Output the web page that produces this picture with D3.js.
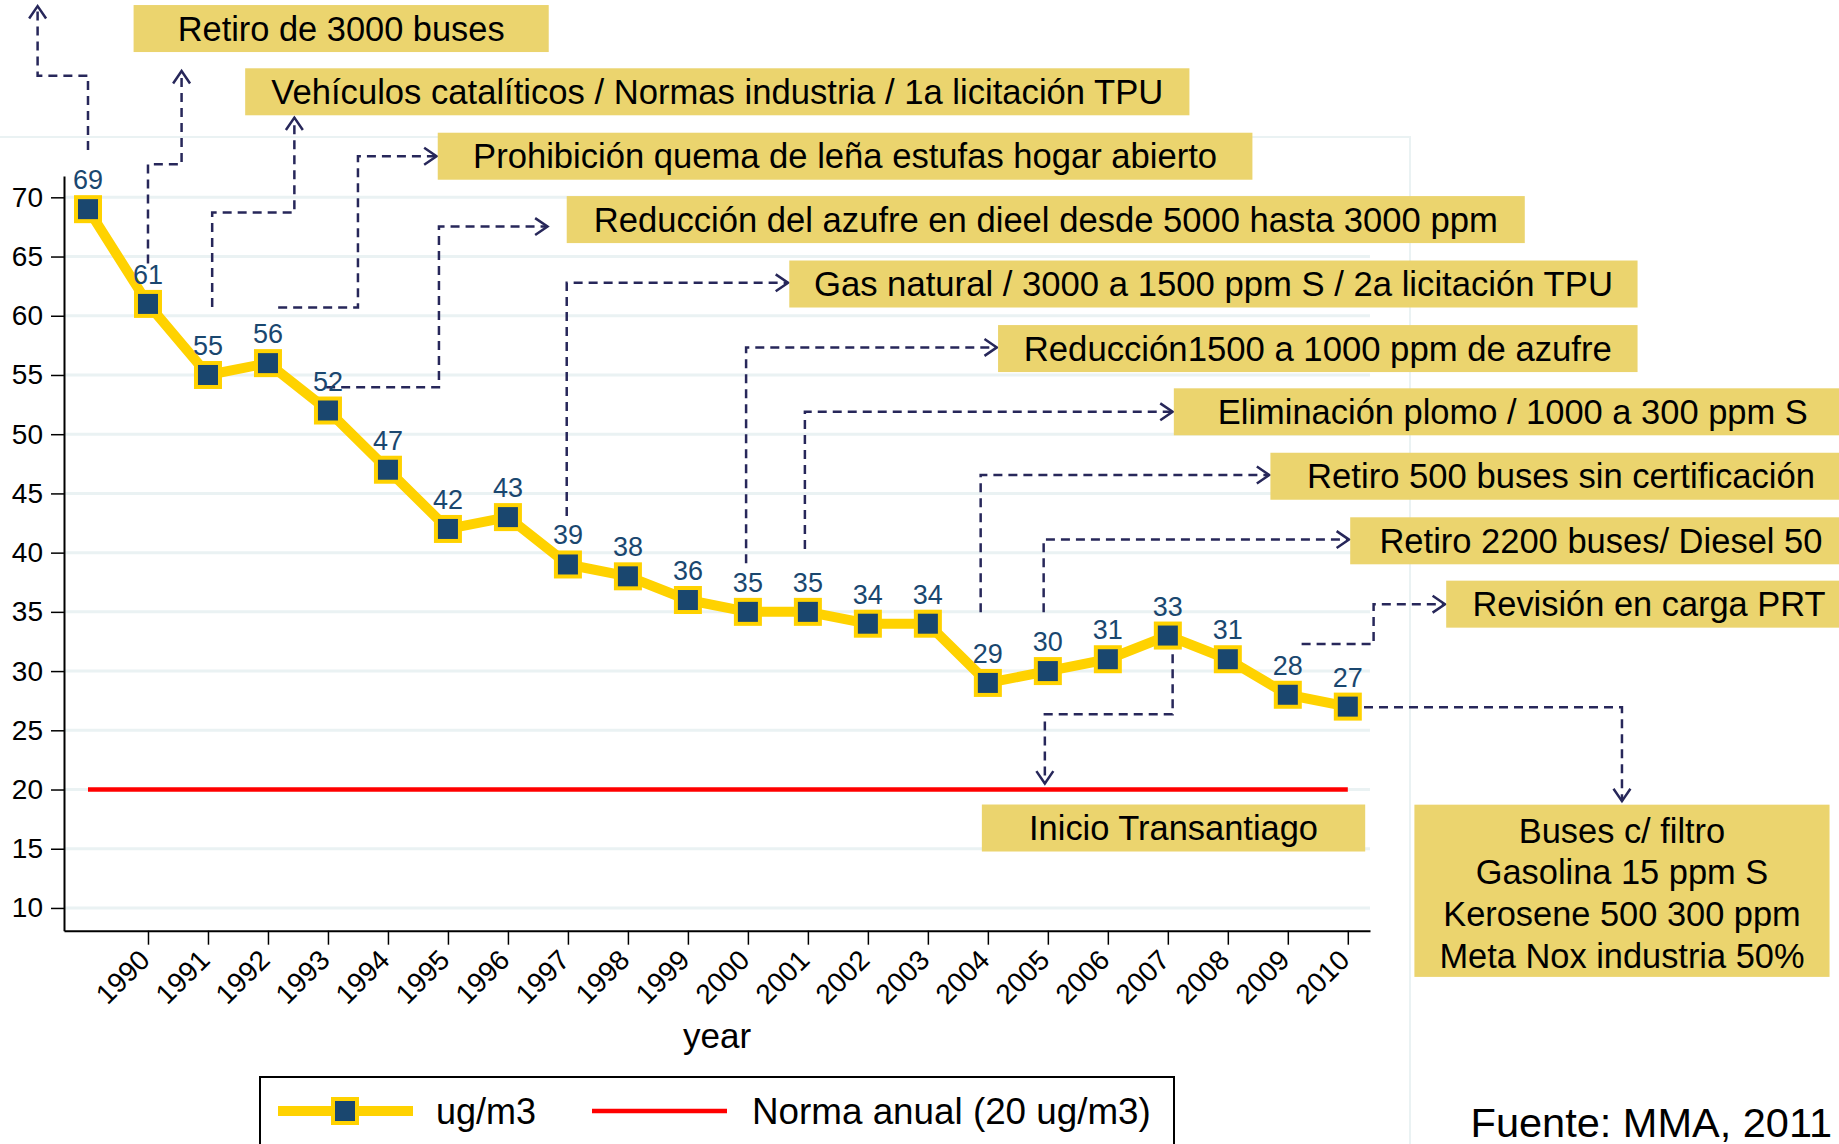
<!DOCTYPE html>
<html>
<head>
<meta charset="utf-8">
<script src="https://cdn.jsdelivr.net/npm/d3@7"></script>
<style>
    body { margin: 0; background: #fff; }
    svg { display: block; font-family: "Liberation Sans", Arial, sans-serif; }
</style>
</head>
<body>
<script>

// annual concentration (ug/m3), one value per year
let years = [1989, 1990, 1991, 1992, 1993, 1994, 1995, 1996, 1997, 1998, 1999,
    2000, 2001, 2002, 2003, 2004, 2005, 2006, 2007, 2008, 2009, 2010]
let values = [69, 61, 55, 56, 52, 47, 42, 43, 39, 38, 36,
    35, 35, 34, 34, 29, 30, 31, 33, 31, 28, 27]
let yearTicks = [1990, 1991, 1992, 1993, 1994, 1995, 1996, 1997, 1998, 1999, 2000,
    2001, 2002, 2003, 2004, 2005, 2006, 2007, 2008, 2009, 2010]
let valueTicks = [10, 15, 20, 25, 30, 35, 40, 45, 50, 55, 60, 65, 70]
let norma = 20
let seriesNames = ["ug/m3", "Norma anual (20 ug/m3)"]
let xTitle = "year"
let source = "Fuente: MMA, 2011"

let noteTexts = [
    "Retiro de 3000 buses",
    "Vehículos catalíticos / Normas industria / 1a licitación TPU",
    "Prohibición quema de leña estufas hogar abierto",
    "Reducción del azufre en dieel desde 5000 hasta 3000 ppm",
    "Gas natural / 3000 a 1500 ppm S / 2a licitación TPU",
    "Reducción1500 a 1000 ppm de azufre",
    "Eliminación plomo / 1000 a 300 ppm S",
    "Retiro 500 buses sin certificación",
    "Retiro 2200 buses/ Diesel 50",
    "Revisión en carga PRT",
    "Inicio Transantiago"
]
let noteBlock = ["Buses c/ filtro", "Gasolina 15 ppm S", "Kerosene 500 300 ppm", "Meta Nox industria 50%"]

// annotation layout, in data units (year, value): [x0, x1, y centre]
let noteBoxes = [
    [1989.76, 1996.68, 84.25],
    [1991.62, 2007.36, 78.91],
    [1994.83, 2008.41, 73.47],
    [1996.98, 2012.95, 68.12],
    [2000.69, 2014.83, 62.68],
    [2004.17, 2014.83, 57.23],
    [2007.1, 2018.4, 51.89],
    [2008.71, 2018.4, 46.45],
    [2010.04, 2018.4, 41.0],
    [2011.64, 2018.4, 35.65],
    [2003.9, 2010.29, 16.75]
]
let noteTextWidths = [327, 892, 744, 904, 799, 588, 590, 508, 443, 353, 289]
let blockBox = [2011.11, 2018.03, 18.72, 4.18]

let noteArrows = [
    [[1989, 73.99], [1989, 80.27], [1988.16, 80.27], [1988.16, 86.14]],
    [[1990, 64.42], [1990, 72.79], [1990.56, 72.79], [1990.56, 80.66]],
    [[1991.07, 60.73], [1991.07, 68.71], [1992.44, 68.71], [1992.44, 76.73]],
    [[1992.17, 60.7], [1993.5, 60.7], [1993.5, 73.47], [1994.81, 73.47]],
    [[1992.97, 53.97], [1994.85, 53.97], [1994.85, 67.53], [1996.66, 67.53]],
    [[1996.98, 43.1], [1996.98, 62.78], [2000.67, 62.78]],
    [[1999.97, 39.11], [1999.97, 57.33], [2004.15, 57.33]],
    [[2000.95, 40.31], [2000.95, 51.89], [2007.08, 51.89]],
    [[2003.88, 34.96], [2003.88, 46.55], [2008.69, 46.55]],
    [[2004.93, 34.96], [2004.93, 41.1], [2010.02, 41.1]],
    [[2009.23, 32.29], [2010.43, 32.29], [2010.43, 35.65], [2011.62, 35.65]],
    [[2007.08, 32.69], [2007.08, 26.35], [2004.95, 26.35], [2004.95, 20.51]],
    [[2010.02, 26.94], [2014.57, 26.94], [2014.57, 19.02]]
]

let width = 1839
let height = 1144
let gold = "#ffd200"
let navy = "#1a476f"
let boxFill = "#ebd46e"
let dashColor = "#27275a"

let svg = d3.select("body")
    .append("svg")
    .attr("width", width)
    .attr("height", height)

let xScale = d3.scaleLinear()
    .domain([1988.6, 2010.37])
    .range([64, 1370])

let yScale = d3.scaleLinear()
    .domain([8.08, 71.8])
    .range([930.7, 176])

// faint plot region frame
svg.append("path")
    .attr("d", "M0,137H1410V" + height)
    .attr("fill", "none")
    .attr("stroke", "#eaf2f3")
    .attr("stroke-width", 2)

// grid lines
svg.append("g")
    .selectAll("line")
    .data(valueTicks)
    .join("line")
    .attr("x1", xScale.range()[0])
    .attr("x2", xScale.range()[1])
    .attr("y1", d => yScale(d))
    .attr("y2", d => yScale(d))
    .attr("stroke", "#eaf2f3")
    .attr("stroke-width", 3)

// axes
let yAxis = d3.axisLeft(yScale).tickValues(valueTicks).tickSize(13).tickSizeOuter(0).tickPadding(8)
let gy = svg.append("g")
    .attr("transform", "translate(" + xScale.range()[0] + ",0)")
    .call(yAxis)
    .attr("font-family", null)
    .attr("font-size", 28)
gy.select(".domain").attr("stroke-width", 2)
gy.selectAll(".tick line").attr("stroke-width", 1.5)
gy.selectAll("text").attr("fill", "#000")

let xAxis = d3.axisBottom(xScale).tickValues(yearTicks).tickFormat(d3.format("d")).tickSize(14).tickSizeOuter(0)
let gx = svg.append("g")
    .attr("transform", "translate(0," + yScale.range()[0] + ")")
    .call(xAxis)
    .attr("font-family", null)
    .attr("font-size", 28)
gx.select(".domain").attr("stroke-width", 2)
gx.selectAll(".tick line").attr("stroke-width", 1.5)
gx.selectAll("text")
    .attr("fill", "#000")
    .attr("x", 0)
    .attr("y", 0)
    .attr("dy", "0.35em")
    .attr("text-anchor", "end")
    .attr("transform", "translate(-4,24) rotate(-45)")

svg.append("text")
    .attr("x", (xScale.range()[0] + xScale.range()[1]) / 2)
    .attr("y", 1048)
    .attr("text-anchor", "middle")
    .attr("font-size", 35)
    .text(xTitle)

// norma line
svg.append("path")
    .datum([years[0], years[years.length - 1]])
    .attr("d", d3.line().x(d => xScale(d)).y(() => yScale(norma)))
    .attr("stroke", "#ff0000")
    .attr("stroke-width", 4.5)
    .attr("fill", "none")

// dashed arrows
let arrowLine = d3.line().x(d => xScale(d[0])).y(d => yScale(d[1]))
let ga = svg.append("g")
    .attr("stroke", dashColor)
    .attr("fill", "none")
    .attr("stroke-width", 2.5)
noteArrows.forEach(pts => {
    ga.append("path")
        .attr("d", arrowLine(pts))
        .attr("stroke-dasharray", "9,6")
    let a = pts[pts.length - 2], b = pts[pts.length - 1]
    let ax = xScale(a[0]), ay = yScale(a[1]), bx = xScale(b[0]), by = yScale(b[1])
    let ang = Math.atan2(by - ay, bx - ax)
    let len = 15, spread = 0.6
    let p1 = [bx - len * Math.cos(ang - spread), by - len * Math.sin(ang - spread)]
    let p2 = [bx - len * Math.cos(ang + spread), by - len * Math.sin(ang + spread)]
    ga.append("path")
        .attr("d", "M" + p1 + "L" + bx + "," + by + "L" + p2)
})

// series line and markers
let pts = years.map((d, i) => [d, values[i]])
svg.append("path")
    .datum(pts)
    .attr("d", d3.line().x(d => xScale(d[0])).y(d => yScale(d[1])))
    .attr("stroke", gold)
    .attr("stroke-width", 10)
    .attr("stroke-linejoin", "round")
    .attr("fill", "none")

svg.append("g")
    .selectAll("rect")
    .data(pts)
    .join("rect")
    .attr("x", d => xScale(d[0]) - 12)
    .attr("y", d => yScale(d[1]) - 12)
    .attr("width", 24)
    .attr("height", 24)
    .attr("fill", navy)
    .attr("stroke", gold)
    .attr("stroke-width", 4)

svg.append("g")
    .selectAll("text")
    .data(pts)
    .join("text")
    .attr("x", d => xScale(d[0]))
    .attr("y", d => yScale(d[1]) - 20)
    .attr("text-anchor", "middle")
    .attr("font-size", 27)
    .attr("fill", navy)
    .text(d => d[1])

// annotation boxes
let boxH = 47
let gn = svg.append("g")
noteTexts.forEach((t, i) => {
    let b = noteBoxes[i]
    let x0 = xScale(b[0]), x1 = xScale(b[1]), yc = yScale(b[2])
    gn.append("rect")
        .attr("x", x0)
        .attr("y", yc - boxH / 2)
        .attr("width", x1 - x0)
        .attr("height", boxH)
        .attr("fill", boxFill)
    gn.append("text")
        .attr("x", (x0 + x1) / 2)
        .attr("y", yc + 12)
        .attr("text-anchor", "middle")
        .attr("font-size", 34.4)
        .attr("textLength", noteTextWidths[i])
        .attr("lengthAdjust", "spacingAndGlyphs")
        .text(t)
})

let bx0 = xScale(blockBox[0]), bx1 = xScale(blockBox[1])
let by0 = yScale(blockBox[2]), by1 = yScale(blockBox[3])
gn.append("rect")
    .attr("x", bx0)
    .attr("y", by0)
    .attr("width", bx1 - bx0)
    .attr("height", by1 - by0)
    .attr("fill", boxFill)
noteBlock.forEach((t, i) => {
    gn.append("text")
        .attr("x", (bx0 + bx1) / 2)
        .attr("y", by0 + 26 + 12 + i * 41.8)
        .attr("text-anchor", "middle")
        .attr("font-size", 34.4)
        .text(t)
})

// legend
let lg = svg.append("g").attr("transform", "translate(260,1077)")
lg.append("rect")
    .attr("x", 0)
    .attr("y", 0)
    .attr("width", 914)
    .attr("height", 120)
    .attr("fill", "#fff")
    .attr("stroke", "#000")
    .attr("stroke-width", 2)
lg.append("line")
    .attr("x1", 18).attr("x2", 153)
    .attr("y1", 34).attr("y2", 34)
    .attr("stroke", gold)
    .attr("stroke-width", 10)
lg.append("rect")
    .attr("x", 73).attr("y", 22)
    .attr("width", 24).attr("height", 24)
    .attr("fill", navy)
    .attr("stroke", gold)
    .attr("stroke-width", 4)
lg.append("line")
    .attr("x1", 332).attr("x2", 467)
    .attr("y1", 34).attr("y2", 34)
    .attr("stroke", "#ff0000")
    .attr("stroke-width", 4.5)
lg.selectAll(".lab")
    .data(seriesNames)
    .join("text")
    .attr("class", "lab")
    .attr("x", (d, i) => i === 0 ? 176 : 492)
    .attr("y", 47)
    .attr("font-size", (d, i) => i === 0 ? 36 : 36.8)
    .text(d => d)

svg.append("text")
    .attr("x", width - 7)
    .attr("y", 1137)
    .attr("text-anchor", "end")
    .attr("font-size", 41.5)
    .text(source)

</script>
</body>
</html>
